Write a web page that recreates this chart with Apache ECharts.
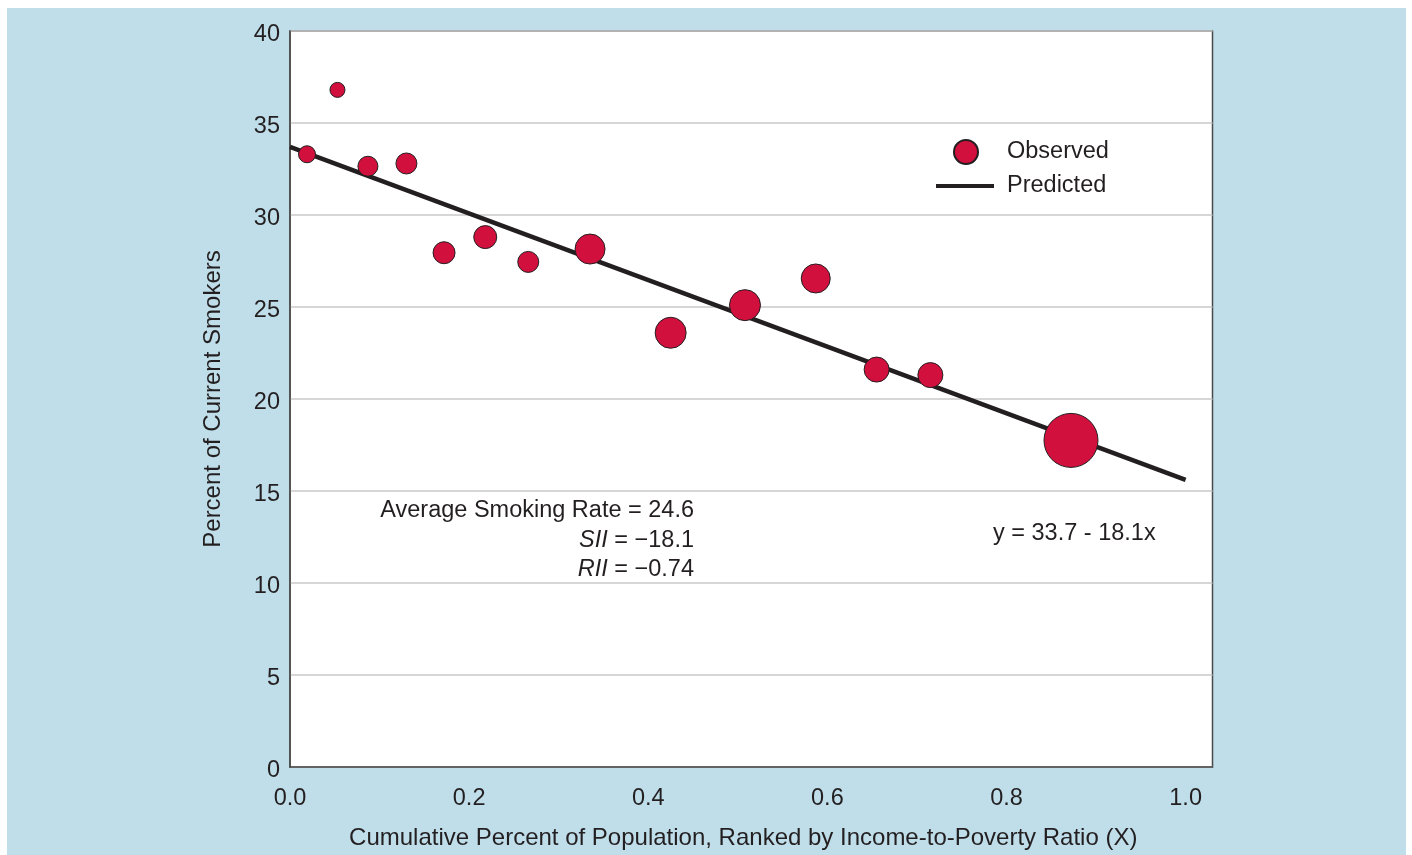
<!DOCTYPE html>
<html>
<head>
<meta charset="utf-8">
<script src="https://cdn.jsdelivr.net/npm/echarts@6/dist/echarts.min.js"></script>
<style>
  html, body { margin: 0; padding: 0; background: #fff; }
  #chart { position: absolute; left: 7px; top: 8px; width: 1399px; height: 847px; }
</style>
</head>
<body>
<div id="chart"></div>
<script>
// observed points: population rank (x), smoking percent (y), bubble diameter
const obsX = [0.019, 0.053, 0.087, 0.130, 0.172, 0.218, 0.266, 0.335, 0.425, 0.508, 0.587, 0.655, 0.715, 0.872]
const obsY = [33.3, 36.8, 32.65, 32.8, 27.95, 28.8, 27.45, 28.15, 23.6, 25.1, 26.55, 21.6, 21.3, 17.75]
const obsSize = [17, 15, 20, 21, 22, 23, 21, 30, 31, 31, 29, 25, 25, 54]

// fitted line y = 33.7 - 18.1x
const predX = [0, 1.0]
const predY = [33.7, 15.6]

const yTicks = [0, 5, 10, 15, 20, 25, 30, 35, 40]
const xTicks = ['0.0', '0.2', '0.4', '0.6', '0.8', '1.0']

const font = '"Liberation Sans", Arial, Helvetica, sans-serif'
const ink = '#231f20'
const red = '#d1103e'

const chart = echarts.init(document.getElementById('chart'))

chart.setOption({
  backgroundColor: '#bfdeea',
  textStyle: { fontFamily: font, color: ink },
  animation: false,
  grid: {
    left: 283, top: 23, right: 193.5, bottom: 87,
    show: true,
    backgroundColor: '#fff',
    borderColor: '#4a4a4a',
    borderWidth: 1.5
  },
  legend: [
    {
      data: ['Observed'],
      left: 941, top: 126,
      itemWidth: 24, itemHeight: 24,
      textStyle: { fontSize: 23.5, color: ink, fontFamily: font, padding: [0, 0, 0, 24] }
    },
    {
      data: [{ name: 'Predicted', icon: 'rect' }],
      left: 924, top: 161,
      itemWidth: 58, itemHeight: 4,
      itemStyle: { color: ink },
      textStyle: { fontSize: 23.5, color: ink, fontFamily: font, padding: [0, 0, 0, 8] }
    }
  ],
  xAxis: {
    type: 'value',
    min: 0,
    max: 1.03,
    interval: 0.2,
    name: 'Cumulative Percent of Population, Ranked by Income-to-Poverty Ratio (X)',
    nameLocation: 'middle',
    nameGap: 59,
    nameTextStyle: { fontSize: 24, color: ink, fontFamily: font, padding: [0, 16, 0, 0] },
    axisLine: { show: true, lineStyle: { color: '#4a4a4a', width: 1.5 } },
    axisTick: { show: false },
    splitLine: { show: false },
    axisLabel: {
      fontSize: 23.5, color: ink, margin: 20,
      formatter: v => {
        const s = v.toFixed(1)
        return xTicks.indexOf(s) >= 0 ? s : ''
      }
    }
  },
  yAxis: {
    type: 'value',
    min: yTicks[0],
    max: yTicks[yTicks.length - 1],
    interval: 5,
    name: 'Percent of Current Smokers',
    nameLocation: 'middle',
    nameGap: 65,
    nameTextStyle: { fontSize: 24, color: ink, fontFamily: font },
    axisLine: { show: true, lineStyle: { color: '#4a4a4a', width: 1.5 } },
    axisTick: { show: false },
    splitLine: { show: true, lineStyle: { color: '#c8c8c8', width: 1.5 } },
    axisLabel: { fontSize: 23.5, color: ink, margin: 10, verticalAlign: 'top', lineHeight: 8 }
  },
  graphic: [
    {
      type: 'text',
      x: 687, y: 488,
      style: {
        text: 'Average Smoking Rate = 24.6\n{i|SII} = \u221218.1\n{i|RII} = \u22120.74',
        font: '23.5px ' + font,
        fill: ink,
        align: 'right',
        lineHeight: 29.5,
        rich: { i: { fontStyle: 'italic', fontSize: 23.5, fontFamily: font, fill: ink, lineHeight: 29.5 } }
      }
    },
    {
      type: 'text',
      x: 986, y: 514,
      style: { text: 'y = 33.7 - 18.1x', font: '23.5px ' + font, fill: ink }
    }
  ],
  series: [
    {
      name: 'Predicted',
      type: 'line',
      data: predX.map((x, i) => [x, predY[i]]),
      symbol: 'none',
      color: ink,
      lineStyle: { color: ink, width: 4.5 },
      z: 2
    },
    {
      name: 'Observed',
      type: 'scatter',
      data: obsX.map((x, i) => [x, obsY[i], obsSize[i]]),
      symbolSize: d => d[2],
      itemStyle: { color: red, borderColor: ink, borderWidth: 1, opacity: 1 },
      z: 3
    }
  ]
})

window.addEventListener('resize', () => {
  chart.resize()
})
</script>
</body>
</html>
